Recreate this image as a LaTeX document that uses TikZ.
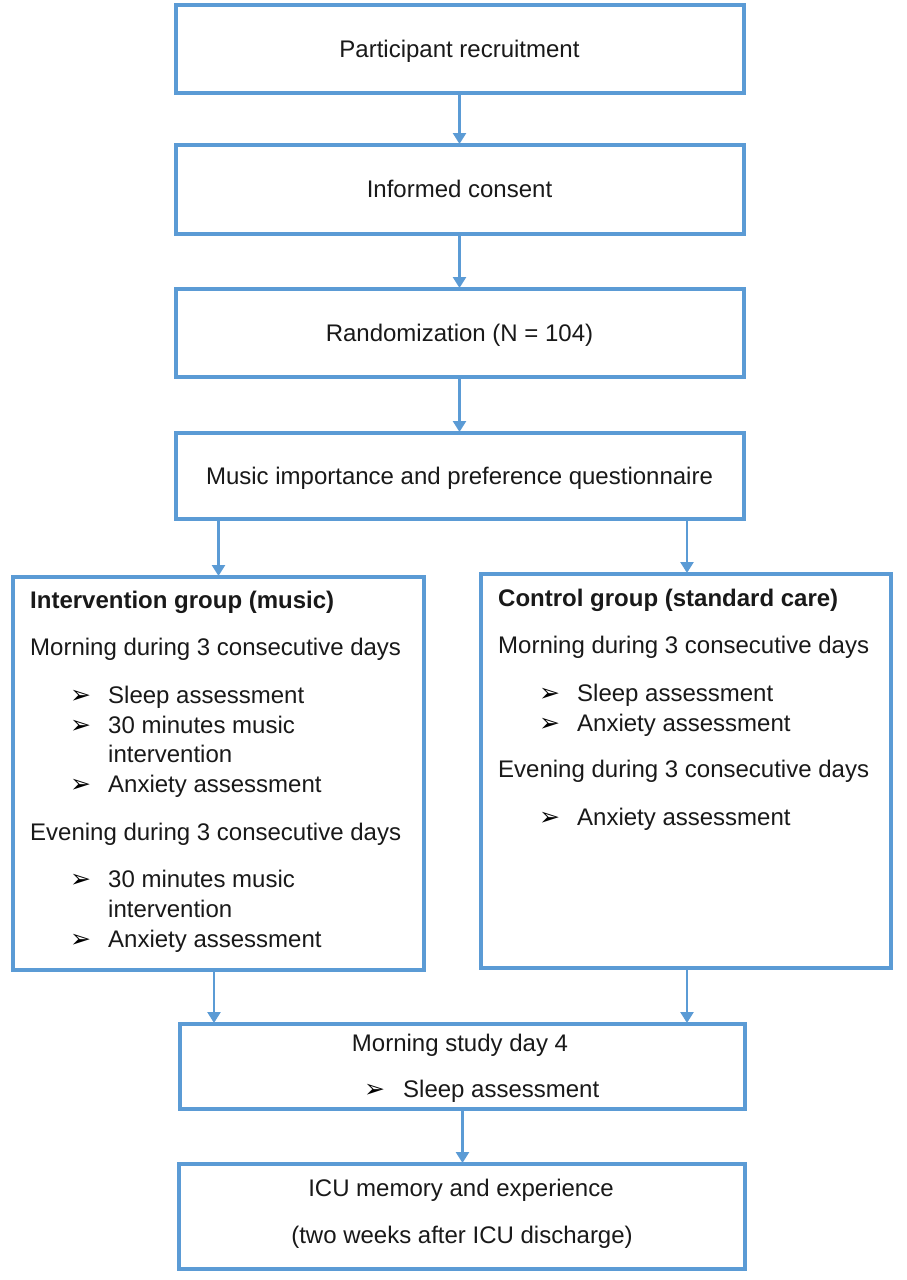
\documentclass[tikz,border=0pt]{standalone}
\usepackage{fontspec}
\setmainfont{Liberation Sans}
\newfontfamily\symfont{DejaVu Sans}
\usetikzlibrary{arrows.meta}
\definecolor{boxblue}{RGB}{91,155,213}
\definecolor{txtcol}{RGB}{25,25,25}
\begin{document}
\begin{tikzpicture}[x=1pt,y=-1pt,
  box/.style={draw=boxblue,line width=4pt,inner sep=0pt,align=center,text=txtcol,
    font=\fontsize{24}{29}\selectfont,text height=18pt,text depth=2pt},
  conn/.style={draw=boxblue,line width=2.5pt,-{Triangle[width=13pt,length=11pt]},shorten >=-1pt},
  txt/.style={anchor=base west,inner sep=0pt,text=txtcol,font=\fontsize{24}{29}\selectfont},
  ctxt/.style={anchor=base,inner sep=0pt,text=txtcol,font=\fontsize{24}{29}\selectfont},
  head/.style={txt,font=\fontsize{24}{29}\selectfont\bfseries},
  bul/.style={anchor=base west,inner sep=0pt,text=black,font=\symfont\fontsize{25}{28}\selectfont}]
\useasboundingbox[fill=white] (0,0) rectangle (906,1280);

% top boxes
\node[box,minimum width=568pt,minimum height=88pt] (b1) at (459.5,49) {Participant recruitment};
\node[box,minimum width=568pt,minimum height=89pt] (b2) at (459.5,189.5) {Informed consent};
\node[box,minimum width=568pt,minimum height=88pt] (b3) at (459.5,333) {Randomization (N = 104)};
\node[box,minimum width=568pt,minimum height=86pt] (b4) at (459.5,476) {Music importance and preference questionnaire};

% group boxes
\node[box,minimum width=411pt,minimum height=393pt] (L) at (218.5,773.5) {};
\node[box,minimum width=410pt,minimum height=394pt] (R) at (686,771) {};

% lower boxes
\node[box,minimum width=565pt,minimum height=85pt] (b5) at (462.5,1066.5) {};
\node[box,minimum width=566pt,minimum height=105pt] (b6) at (462,1216.5) {};

% left box text
\node[head] (l1) at (30,608) {Intervention group (music)};
\node[txt] (l2) at (30,655) {Morning during 3 consecutive days};
\node[bul] (lb1) at (70,703) {➢};
\node[txt] (l3) at (108,703) {Sleep assessment};
\node[bul] (lb2) at (70,733) {➢};
\node[txt] (l4) at (108,733) {30 minutes music};
\node[txt] (l5) at (108,762) {intervention};
\node[bul] (lb3) at (70,792) {➢};
\node[txt] (l6) at (108,792) {Anxiety assessment};
\node[txt] (l7) at (30,840) {Evening during 3 consecutive days};
\node[bul] (lb4) at (70,887) {➢};
\node[txt] (l8) at (108,887) {30 minutes music};
\node[txt] (l9) at (108,917) {intervention};
\node[bul] (lb5) at (70,947) {➢};
\node[txt] (l10) at (108,947) {Anxiety assessment};

% right box text
\node[head] (r1) at (498,606) {Control group (standard care)};
\node[txt] (r2) at (498,653) {Morning during 3 consecutive days};
\node[bul] (rb1) at (539,701) {➢};
\node[txt] (r3) at (577,701) {Sleep assessment};
\node[bul] (rb2) at (539,731) {➢};
\node[txt] (r4) at (577,731) {Anxiety assessment};
\node[txt] (r5) at (498,777) {Evening during 3 consecutive days};
\node[bul] (rb3) at (539,825) {➢};
\node[txt] (r6) at (577,825) {Anxiety assessment};

% box 5 text
\node[ctxt] (m1) at (460,1051) {Morning study day 4};
\node[bul] (mb1) at (364,1097) {➢};
\node[txt] (m2) at (403,1097) {Sleep assessment};

% box 6 text
\node[ctxt] (i1) at (461,1196) {ICU memory and experience};
\node[ctxt] (i2) at (462,1243) {(two weeks after ICU discharge)};

% connectors
\coordinate (xl) at (214,0);
\coordinate (xr) at (687,0);
\coordinate (xm) at (462.5,0);
\draw[conn] (b1.south) -- (b2.north);
\draw[conn] (b2.south) -- (b3.north);
\draw[conn] (b3.south) -- (b4.north);
\draw[conn] (b4.south -| L.north) -- (L.north);
\draw[conn] (b4.south -| xr) -- (R.north -| xr);
\draw[conn] (L.south -| xl) -- (b5.north -| xl);
\draw[conn] (R.south -| xr) -- (b5.north -| xr);
\draw[conn] (b5.south -| xm) -- (b6.north -| xm);
\end{tikzpicture}
\end{document}
